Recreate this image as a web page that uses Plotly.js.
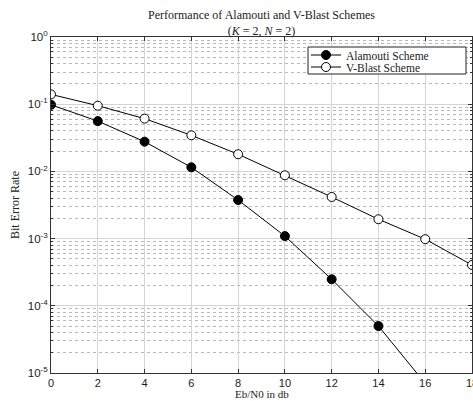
<!DOCTYPE html>
<html>
<head>
<meta charset="utf-8">
<script src="https://cdn.plot.ly/plotly-3.0.1.min.js"></script>
<style>
html,body{margin:0;padding:0;background:#fff;overflow:hidden;}
#chart{width:473px;height:401px;}
</style>
</head>
<body>
<div id="chart"></div>
<script>
// Data
const ebn0 = [0, 2, 4, 6, 8, 10, 12, 14, 16, 18];
const alamoutiBER = [0.098, 0.056, 0.0277, 0.0115, 0.00375, 0.00109, 0.000248, 0.000050, 0.0000070];
const vblastBER = [0.140, 0.095, 0.061, 0.0344, 0.0180, 0.00875, 0.00416, 0.00194, 0.00098, 0.000405];
const yTickVals = [1e-5, 1e-4, 1e-3, 1e-2, 1e-1, 1];
const yTickText = ['10<sup>-5</sup>', '10<sup>-4</sup>', '10<sup>-3</sup>', '10<sup>-2</sup>', '10<sup>-1</sup>', '10<sup>0</sup>'];
const xTickVals = [0, 2, 4, 6, 8, 10, 12, 14, 16, 18];
const seriesNames = ['Alamouti Scheme', 'V-Blast Scheme'];

const minorVals = [];
for (let e = -5; e < 0; e++) {
  for (let m = 2; m <= 9; m++) minorVals.push(m * Math.pow(10, e));
}

const serif = 'Liberation Serif';
const sans = 'Liberation Sans';

const traces = [
  {
    x: ebn0.slice(0, alamoutiBER.length), y: alamoutiBER, name: seriesNames[0],
    mode: 'lines+markers', type: 'scatter', legend: 'legend',
    line: {color: '#000', width: 1},
    marker: {symbol: 'circle', size: 9, color: '#000', line: {color: '#000', width: 1}}
  },
  {
    x: ebn0, y: vblastBER, name: seriesNames[1],
    mode: 'lines+markers', type: 'scatter', legend: 'legend2',
    line: {color: '#000', width: 1},
    marker: {symbol: 'circle', size: 9, color: '#fff', line: {color: '#000', width: 1}}
  }
];

// plot area in pixels: x 51..472, y 37..373
const px = v => (v - 51) / 421;
const py = v => (373 - v) / 336;

const legendCommon = {
  xref: 'paper', yref: 'paper', xanchor: 'left', yanchor: 'top',
  bgcolor: 'rgba(0,0,0,0)', borderwidth: 0,
  font: {family: serif, size: 11.5, color: '#222'}
};

const layout = {
  width: 473, height: 401,
  margin: {l: 51, r: 1, t: 37, b: 28},
  paper_bgcolor: '#fff', plot_bgcolor: '#fff',
  showlegend: true,
  title: {
    text: 'Performance of Alamouti and V-Blast Schemes<br>(<i>K</i> = 2, <i>N</i> = 2)',
    font: {family: serif, size: 12, color: '#222'},
    x: 0.5, xanchor: 'center', xref: 'paper',
    y: 1 - 19 / 401, yanchor: 'top', yref: 'container'
  },
  xaxis: {
    range: [0, 18], tickvals: xTickVals, ticktext: xTickVals.map(String),
    ticks: 'inside', ticklen: 4, tickcolor: '#333',
    showline: true, linecolor: '#333', linewidth: 1, mirror: 'allticks',
    showgrid: true, gridcolor: '#d4d4d4', gridwidth: 1,
    zeroline: false, ticklabeloverflow: 'allow',
    tickfont: {family: sans, size: 11, color: '#222'}
  },
  yaxis: {
    type: 'log', range: [-5, 0], tickvals: yTickVals, ticktext: yTickText,
    ticks: 'inside', ticklen: 4, tickcolor: '#333',
    showline: true, linecolor: '#333', linewidth: 1, mirror: 'allticks',
    showgrid: true, gridcolor: '#d4d4d4', gridwidth: 1,
    zeroline: false,
    tickfont: {family: sans, size: 11.5, color: '#222'},
    minor: {tickmode: 'array', tickvals: minorVals, ticks: 'inside', ticklen: 2, tickcolor: '#333',
            showgrid: true, gridcolor: '#b8b8b8', griddash: 'dot', gridwidth: 1}
  },
  shapes: [
    {type: 'rect', xref: 'paper', yref: 'paper', x0: px(308), x1: px(466), y0: py(47), y1: py(74),
     fillcolor: '#fff', line: {color: '#222', width: 1}, layer: 'above'}
  ],
  annotations: [
    {text: 'Eb/N0 in db', xref: 'paper', x: 0.5, yref: 'paper', y: -(394 - 373) / 336,
     yanchor: 'middle', xanchor: 'center', showarrow: false,
     font: {family: serif, size: 11, color: '#222'}},
    {text: 'Bit Error Rate', xref: 'paper', x: -(51 - 15) / 421, yref: 'paper', y: (373 - 205) / 336,
     yanchor: 'middle', xanchor: 'center', showarrow: false, textangle: -90,
     font: {family: serif, size: 12, color: '#222'}}
  ],
  legend: Object.assign({}, legendCommon, {x: px(306), y: py(40.5)}),
  legend2: Object.assign({}, legendCommon, {x: px(306), y: py(52.5)})
};

Plotly.newPlot('chart', traces, layout, {displayModeBar: false, staticPlot: true});
</script>
</body>
</html>
